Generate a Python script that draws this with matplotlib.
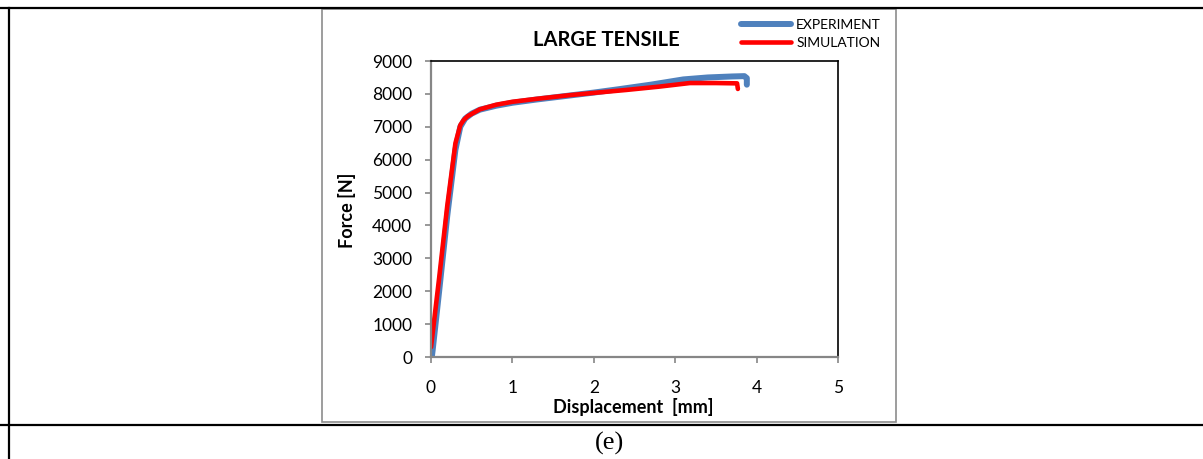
import matplotlib
matplotlib.use("Agg")
import matplotlib.pyplot as plt
from matplotlib.lines import Line2D
from matplotlib.patches import Rectangle

exp_disp = [0.01, 0.02, 0.10, 0.20, 0.30, 0.36, 0.42, 0.50, 0.60, 0.80, 1.00, 1.30, 1.60,
            2.00, 2.30, 2.70, 3.10, 3.40, 3.70, 3.85, 3.88, 3.88]
exp_force = [0, 200, 2000, 4300, 6300, 7000, 7250, 7400, 7520, 7640, 7730, 7830, 7920,
             8040, 8140, 8280, 8440, 8500, 8530, 8540, 8480, 8280]

sim_disp = [0.00, 0.10, 0.20, 0.30, 0.36, 0.40, 0.45, 0.52, 0.60, 0.80, 1.00, 1.30, 1.70,
            2.00, 2.40, 2.80, 3.18, 3.50, 3.76, 3.77]
sim_force = [300, 2400, 4600, 6500, 7050, 7200, 7320, 7420, 7530, 7670, 7760, 7850, 7960,
             8030, 8120, 8220, 8330, 8330, 8320, 8150]

x_ticks = [0, 1, 2, 3, 4, 5]
y_ticks = [0, 1000, 2000, 3000, 4000, 5000, 6000, 7000, 8000, 9000]

plt.rcParams['font.family'] = ['Lato', 'DejaVu Sans']

W, H = 1203, 459
fig = plt.figure(figsize=(W / 100, H / 100), dpi=100)

def fx(px):
    return px / W

def fy(py):
    return 1 - py / H

# table borders around the figure cell
fig.add_artist(Line2D([0, 1], [fy(7.5), fy(7.5)], color='black', lw=1.6))
fig.add_artist(Line2D([0, 1], [fy(425), fy(425)], color='black', lw=1.6))
fig.add_artist(Line2D([fx(9), fx(9)], [fy(7.5), 0], color='black', lw=1.6))

# gray chart frame
fig.add_artist(Rectangle((fx(321.5), fy(422)), fx(895.5) - fx(321.5), fy(9) - fy(422),
                         fill=False, edgecolor='#8c8c8c', lw=1.2))

ax = fig.add_axes([fx(431), fy(357), fx(838) - fx(431), fy(61) - fy(357)])

ax.plot(exp_disp, exp_force, color='#4F81BD', lw=4.3, solid_capstyle='round',
        solid_joinstyle='round', label='EXPERIMENT')
ax.plot(sim_disp, sim_force, color='#FF0000', lw=3.3, solid_capstyle='round',
        solid_joinstyle='round', label='SIMULATION')

ax.set_xlim(0, 5)
ax.set_ylim(0, 9000)
ax.set_xticks(x_ticks)
ax.set_yticks(y_ticks)

for side in ['left', 'bottom']:
    ax.spines[side].set_color('#868686')
    ax.spines[side].set_linewidth(1.6)
for side in ['top', 'right']:
    ax.spines[side].set_color('black')
    ax.spines[side].set_linewidth(1.2)

ax.tick_params(axis='both', direction='out', length=4.5, width=1.2, color='#868686',
               labelsize=12.5, labelcolor='black')
ax.tick_params(axis='y', pad=9)
ax.tick_params(axis='x', pad=12)

fig.text(fx(606), fy(40), 'LARGE TENSILE', ha='center', va='center',
         fontsize=14.5, fontweight='bold')
fig.text(fx(633), fy(407), 'Displacement  [mm]', ha='center', va='center',
         fontsize=13, fontweight='bold')
fig.text(fx(347), fy(210), 'Force [N]', ha='center', va='center', rotation=90,
         fontsize=13, fontweight='bold')

leg = ax.legend(loc='upper right', bbox_to_anchor=(fx(881), fy(19)),
                bbox_transform=fig.transFigure, frameon=False, fontsize=10,
                handlelength=3.6, handletextpad=0.35, labelspacing=0.42,
                borderpad=0, borderaxespad=0)

fig.text(fx(610), fy(443), '(e)', ha='center', va='center', fontsize=19,
         family='Liberation Serif')

fig.savefig('out.png', dpi=100)
